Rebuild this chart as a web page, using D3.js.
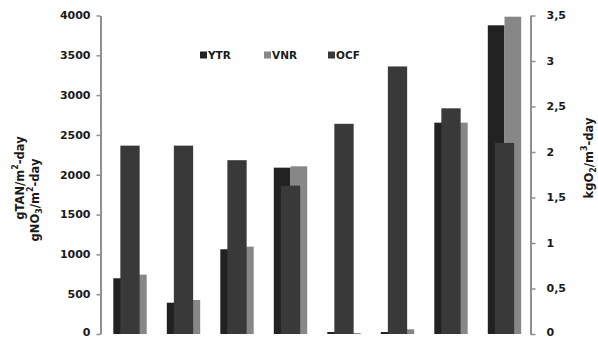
<!DOCTYPE html>
<html>
<head>
<meta charset="utf-8">
<script src="https://cdn.jsdelivr.net/npm/d3@7"></script>
<style>
  body { margin: 0; background: #fff; }
  svg { display: block; }
  text { font-family: "DejaVu Sans", sans-serif; font-weight: bold; fill: #1a1a1a; }
</style>
</head>
<body>
<svg width="598" height="339"></svg>
<script>
// chart values
const categories = ['1', '2', '3', '4', '5', '6', '7', '8']
const ytr = [700, 393, 1064, 2089, 25, 25, 2654, 3877]
const vnr = [745, 427, 1097, 2106, 12, 59, 2654, 3985]
const ocf = [2.07, 2.07, 1.91, 1.63, 2.31, 2.94, 2.48, 2.10]
const leftTicks = [0, 500, 1000, 1500, 2000, 2500, 3000, 3500, 4000]
const rightTicks = [0, 0.5, 1, 1.5, 2, 2.5, 3, 3.5]
const legendItems = ['YTR', 'VNR', 'OCF']

const colors = { YTR: '#222222', VNR: '#878787', OCF: '#393939' }
const axisColor = '#8f8f8f'

const svg = d3.select('svg')

const x = d3.scaleBand()
    .domain(categories)
    .range([103.25, 531.25])
    .paddingInner(0.376)
    .paddingOuter(0.188)

const xSub = d3.scaleBand()
    .domain(['YTR', 'VNR'])
    .range([0, x.bandwidth()])

const y = d3.scaleLinear().domain([0, 4000]).range([334, 15.5])
const y2 = d3.scaleLinear().domain([0, 3.5]).range([334, 15.5])

const ocfWidth = 19.3

// primary series: side by side
const rows = categories.map((c, i) => ({ c, YTR: ytr[i], VNR: vnr[i] }))
const groups = svg.append('g').attr('class', 'bars')
    .selectAll('g').data(rows).join('g')
    .attr('transform', d => `translate(${x(d.c)},0)`)

groups.selectAll('rect')
    .data(d => ['YTR', 'VNR'].map(k => ({ k, v: d[k] })))
    .join('rect')
    .attr('x', d => xSub(d.k))
    .attr('width', xSub.bandwidth())
    .attr('y', d => y(d.v))
    .attr('height', d => y(0) - y(d.v))
    .attr('fill', d => colors[d.k])

// secondary series drawn on top, centred in each group
svg.append('g').attr('class', 'ocf')
    .selectAll('rect').data(ocf).join('rect')
    .attr('x', (d, i) => x(categories[i]) + x.bandwidth() / 2 - ocfWidth / 2)
    .attr('width', ocfWidth)
    .attr('y', d => y2(d))
    .attr('height', d => y2(0) - y2(d))
    .attr('fill', colors.OCF)

// axes
const leftAxis = svg.append('g')
    .attr('transform', 'translate(100.5,0)')
    .call(d3.axisLeft(y).tickValues(leftTicks).tickSize(4).tickSizeOuter(0).tickPadding(6)
        .tickFormat(d3.format('d')))

const rightAxis = svg.append('g')
    .attr('transform', 'translate(530.5,0)')
    .call(d3.axisRight(y2).tickValues(rightTicks).tickSize(5).tickSizeOuter(0).tickPadding(11)
        .tickFormat(d => String(d).replace('.', ',')))

;[leftAxis, rightAxis].forEach(a => {
    a.select('.domain').attr('stroke', axisColor).attr('stroke-width', 2)
    a.selectAll('.tick line').attr('stroke', axisColor).attr('stroke-width', 1.5)
    a.selectAll('.tick text')
        .attr('fill', '#1a1a1a')
        .attr('dy', '0.3em')
        .style('font-family', '"DejaVu Sans", sans-serif')
        .style('font-weight', 'bold')
        .style('font-size', '11px')
    // keep the zero label inside the frame
    a.selectAll('.tick').filter(d => d === 0).select('text').attr('dy', '0.1em')
})

// axis titles
function title(xPos, yPos, parts) {
    const t = svg.append('text')
        .attr('transform', `translate(${xPos},${yPos}) rotate(-90)`)
        .attr('text-anchor', 'middle')
        .attr('dominant-baseline', 'central')
        .style('font-size', '11.5px')
    parts.forEach(([s, shift]) => {
        const span = t.append('tspan').text(s)
        if (shift) span.attr('baseline-shift', shift).style('font-size', '8px')
    })
}
title(20, 178, [['gTAN/m'], ['2', 'super'], ['-day']])
title(35, 200, [['gNO'], ['3', 'sub'], ['/m'], ['2', 'super'], ['-day']])
title(589, 158, [['kgO'], ['2', 'sub'], ['/m'], ['3', 'super'], ['-day']])

// legend
const legend = svg.append('g').attr('class', 'legend')
    .selectAll('g').data(legendItems).join('g')
    .attr('transform', (d, i) => `translate(${200 + i * 64},51.5)`)
legend.append('rect')
    .attr('width', 7).attr('height', 7)
    .attr('fill', d => colors[d])
legend.append('text')
    .attr('x', 8).attr('y', 3.5)
    .attr('dominant-baseline', 'central')
    .style('font-size', '10.5px')
    .text(d => d)
</script>
</body>
</html>
